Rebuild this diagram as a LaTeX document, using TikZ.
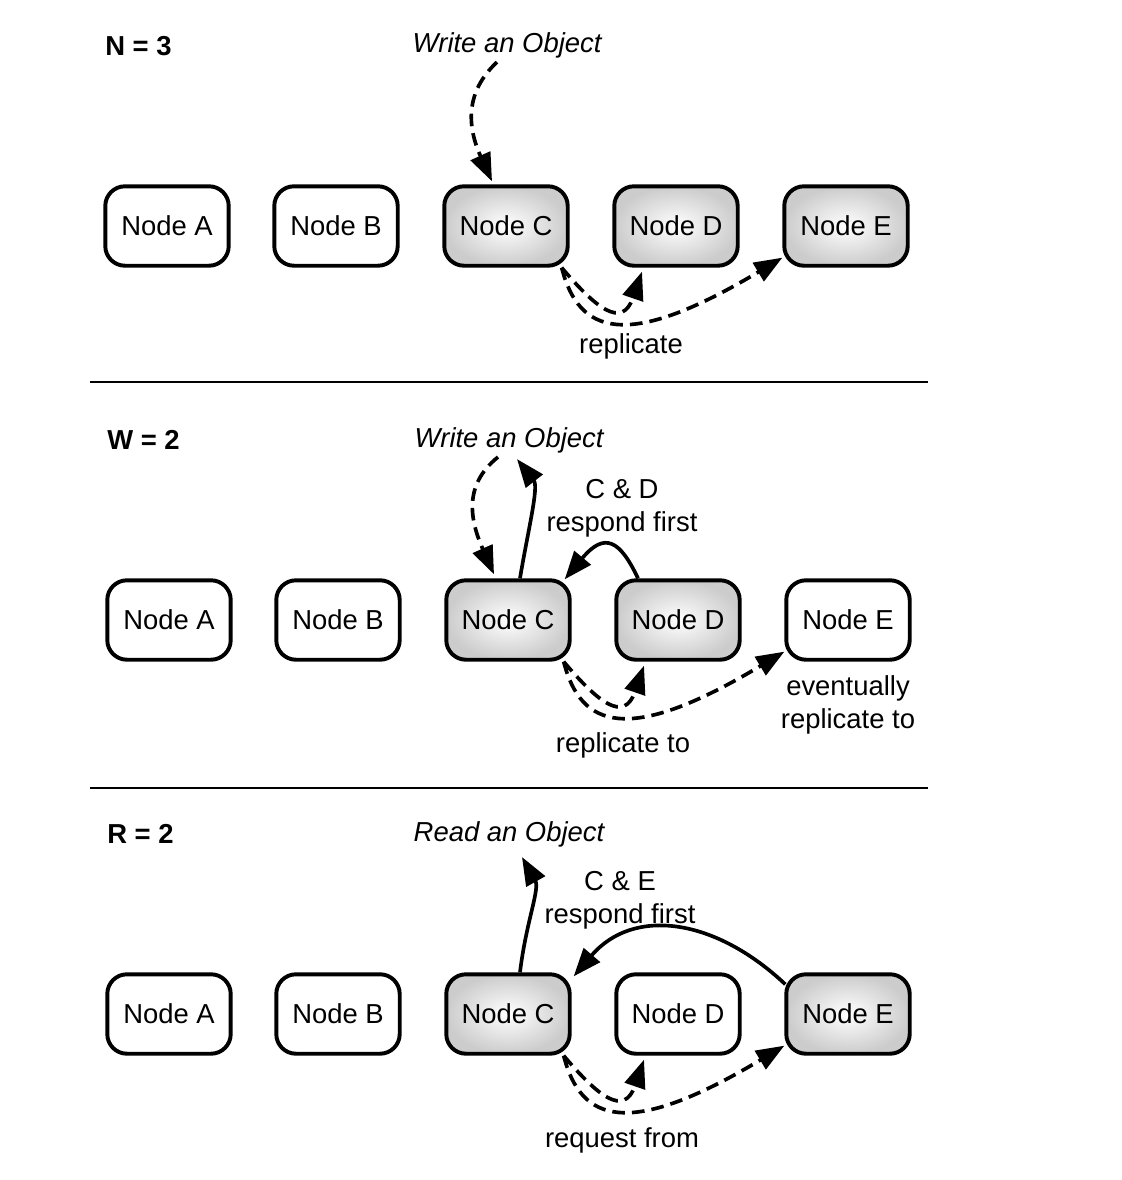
\documentclass[tikz,border=0pt]{standalone}
\usepackage{fontspec}
\setmainfont{Liberation Sans}
\usetikzlibrary{arrows.meta,calc}

\tikzset{
	nodebox/.style={draw, line width=2.8pt, rounded corners=14pt, fill=white,
		minimum width=3.085cm, minimum height=1.985cm, inner sep=0pt,
		font=\fontsize{19.5}{23}\selectfont},
	hotbox/.style={nodebox, shading=radial, inner color=white, outer color=black!20},
	lbl/.style={inner sep=0pt, align=center, font=\fontsize{19.5}{23.5}\selectfont},
	head/.style={lbl, anchor=west, font=\fontsize{19.5}{23.5}\selectfont\bfseries},
	act/.style={lbl, font=\fontsize{19.5}{23.5}\selectfont\itshape},
	reply/.style={line width=2.6pt, -{Triangle[length=20pt, width=15pt]}},
	send/.style={reply, dash pattern=on 9pt off 5pt},
	sepline/.style={line width=1.3pt}
}

\begin{document}
\begin{tikzpicture}[x=0.025cm, y=-0.025cm]
	\useasboundingbox (0,0) rectangle (1122,1180);
%
	% N = 3
	\node[head] (h1) at (105,46) {N = 3};
	\node[act] (w1) at (507,45) {Write an Object};
	\node[nodebox] (a1) at (167,226) {Node A};
	\node[nodebox] (b1) at (336,226) {Node B};
	\node[hotbox] (c1) at (506,226) {Node C};
	\node[hotbox] (d1) at (676,226) {Node D};
	\node[hotbox] (e1) at (846,226) {Node E};
	\node[lbl] (r1) at (631,346) {replicate};
	\draw[send] ($(w1.south)+(-10,4)$) .. controls +(-32,30) and +(-25,-55) .. ($(c1.north)+(-14,-3)$);
	\draw[send] ($(c1.south east)+(-8,0)$) .. controls +(34,40) and +(-20,58) .. ($(d1.south)+(-34,4)$);
	\draw[send] ($(c1.south east)+(-8,0)$) .. controls +(17,66) and +(-157,94) .. ($(e1.south west)+(0,-10)$);
%
	\draw[sepline] (90,382) -- (928,382);
%
	% W = 2
	\node[head] (h2) at (107,440) {W = 2};
	\node[act] (w2) at (509,440) {Write an Object};
	\node[nodebox] (a2) at (169,620) {Node A};
	\node[nodebox] (b2) at (338,620) {Node B};
	\node[hotbox] (c2) at (508,620) {Node C};
	\node[hotbox] (d2) at (678,620) {Node D};
	\node[nodebox] (e2) at (848,620) {Node E};
	\node[lbl] (n2) at (622,508) {C \& D\\respond first};
	\node[lbl] (r2) at (623,745) {replicate to};
	\node[lbl] (v2) at (848,705) {eventually\\replicate to};
	\draw[send] ($(w2.south)+(-11,4)$) .. controls +(-35,28) and +(-24,-54) .. ($(c2.north)+(-14,-4)$);
	\draw[reply] ($(c2.north)+(12,0)$) .. controls +(8,-48) and +(22,28) .. ($(w2.south)+(8,6)$);
	\draw[reply] ($(d2.north)+(-40,0)$) .. controls +(-18,-38) and +(40,-48) .. ($(c2.north east)+(-7,1)$);
	\draw[send] ($(c2.south east)+(-8,0)$) .. controls +(34,40) and +(-20,58) .. ($(d2.south)+(-34,4)$);
	\draw[send] ($(c2.south east)+(-8,0)$) .. controls +(17,66) and +(-157,94) .. ($(e2.south west)+(0,-10)$);
%
	\draw[sepline] (90,788) -- (928,788);
%
	% R = 2
	\node[head] (h3) at (107,834) {R = 2};
	\node[act] (w3) at (509,834) {Read an Object};
	\node[nodebox] (a3) at (169,1014) {Node A};
	\node[nodebox] (b3) at (338,1014) {Node B};
	\node[hotbox] (c3) at (508,1014) {Node C};
	\node[nodebox] (d3) at (678,1014) {Node D};
	\node[hotbox] (e3) at (848,1014) {Node E};
	\node[lbl] (n3) at (620,900) {C \& E\\respond first};
	\node[lbl] (r3) at (622,1140) {request from};
	\draw[reply] ($(c3.north)+(12,0)$) .. controls +(6,-50) and +(18,32) .. ($(w3.south)+(13,10)$);
	\draw[reply] ($(e3.north west)+(1,12)$) .. controls +(-70,-66) and +(60,-70) .. ($(c3.north east)+(2,4)$);
	\draw[send] ($(c3.south east)+(-8,0)$) .. controls +(34,40) and +(-20,58) .. ($(d3.south)+(-34,4)$);
	\draw[send] ($(c3.south east)+(-8,0)$) .. controls +(17,66) and +(-157,94) .. ($(e3.south west)+(0,-10)$);
%
\end{tikzpicture}
\end{document}
